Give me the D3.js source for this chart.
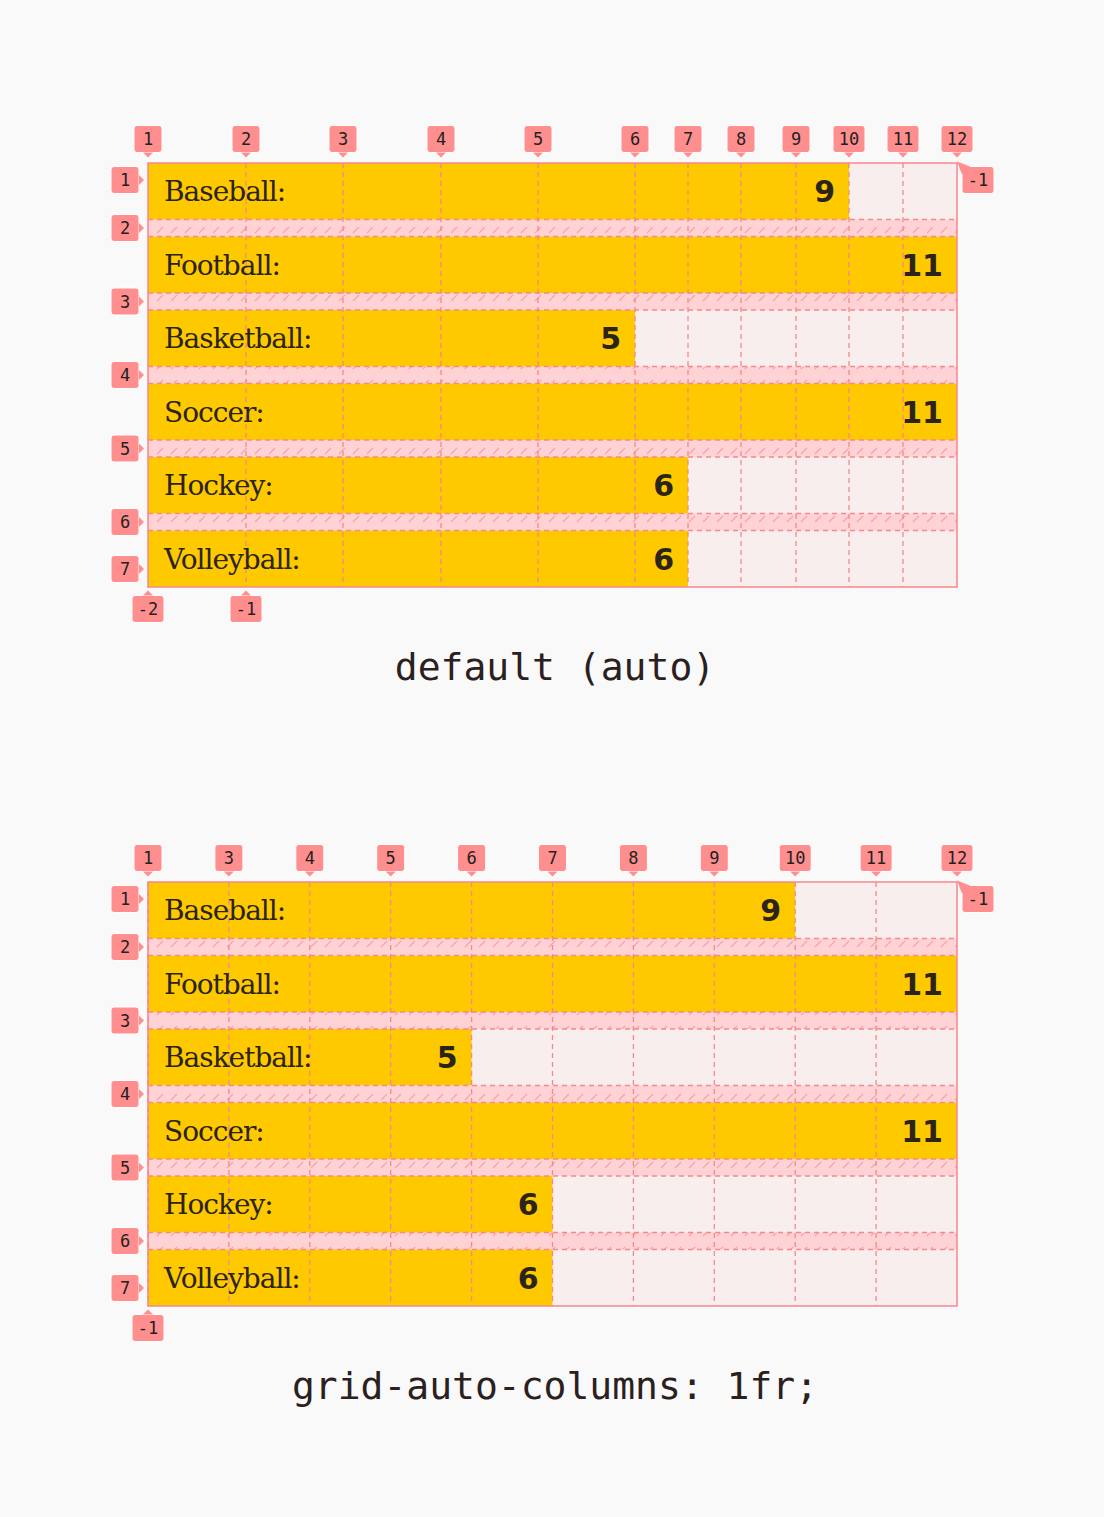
<!DOCTYPE html>
<html><head><meta charset="utf-8">
<script src="https://cdn.jsdelivr.net/npm/d3@7"></script>
<style>body{margin:0;background:#f9f9f9}</style>
</head><body>
<script>
const sports = ["Baseball:", "Football:", "Basketball:", "Soccer:", "Hockey:", "Volleyball:"];
const values = [9, 11, 5, 11, 6, 6];
// relative track widths for each of the 11 column tracks
const autoTracks = [98, 97, 98, 97, 97, 53, 53, 55, 53, 54, 54];
const frTracks = [0, 1, 1, 1, 1, 1, 1, 1, 1, 1, 1];
const topLabelsAuto = [1, 2, 3, 4, 5, 6, 7, 8, 9, 10, 11, 12];
const topLabelsFr = [1, null, 3, 4, 5, 6, 7, 8, 9, 10, 11, 12];
const bottomLabelsAuto = [[0, "-2"], [1, "-1"]];
const bottomLabelsFr = [[0, "-1"]];
const captions = ["default (auto)", "grid-auto-columns: 1fr;"];

const W = 1104, H = 1517;
const svg = d3.select("body").append("svg").attr("width", W).attr("height", H);
const defs = svg.append("defs");
const pat = defs.append("pattern").attr("id", "hatch").attr("patternUnits", "userSpaceOnUse")
  .attr("width", 14).attr("height", 17);
pat.append("rect").attr("width", 14).attr("height", 17).attr("fill", "#ffd3d6");
pat.append("line").attr("x1", 3).attr("y1", 12).attr("x2", 9).attr("y2", 6)
  .attr("stroke", "#f7a3a8").attr("stroke-width", 1.3);

const pink = "#ff8f8f", line = "#f5888d";

function badge(g, x, y, text, dir) {
  const w = text.length > 1 ? 32 : 28, h = 27;
  const b = g.append("g").attr("transform", `translate(${x},${y})`);
  b.append("rect").attr("x", -w / 2).attr("y", -h / 2).attr("width", w).attr("height", h)
    .attr("rx", 3).attr("fill", pink).attr("stroke", "#fff").attr("stroke-width", 1);
  let tri = null;
  if (dir === "down") tri = [[-5, h / 2], [5, h / 2], [0, h / 2 + 5]];
  if (dir === "up") tri = [[-5, -h / 2], [5, -h / 2], [0, -h / 2 - 5]];
  if (dir === "right") tri = [[w / 2, -5], [w / 2, 5], [w / 2 + 5, 0]];
  if (dir === "upleft") tri = [[-w / 2, -h / 2 + 8], [-w / 2 + 8, -h / 2], [-w / 2 - 5, -h / 2 - 5]];
  if (tri) b.append("path").attr("d", d3.line()(tri) + "Z").attr("fill", pink);
  b.append("text").attr("text-anchor", "middle").attr("dy", "0.36em")
    .attr("font-family", "DejaVu Sans Mono").attr("font-size", 17).attr("fill", "#222").text(text);
}

function drawGrid(top, tracks, topLabels, bottomLabels, caption) {
  const g = svg.append("g");
  const cum = [0];
  tracks.forEach(t => cum.push(cum[cum.length - 1] + t));
  const x = d3.scaleLinear().domain([0, cum[cum.length - 1]]).range([148, 957]);
  const lineX = cum.map(c => x(c));
  const rowH = 56.5, gapH = 17;
  const y = d3.scaleBand().domain(d3.range(sports.length)).range([top, top + 6 * rowH + 5 * gapH])
    .paddingInner(gapH / (rowH + gapH));

  // background empty cells
  g.append("rect").attr("x", x(0)).attr("y", top).attr("width", x.range()[1] - x(0))
    .attr("height", y.range()[1] - top).attr("fill", "#f8eeee");
  // gaps
  d3.range(sports.length - 1).forEach(i => {
    g.append("rect").attr("x", x(0)).attr("y", y(i) + y.bandwidth())
      .attr("width", x.range()[1] - x(0)).attr("height", y.step() - y.bandwidth()).attr("fill", "url(#hatch)");
  });
  // bars
  g.selectAll(".bar").data(values).join("rect")
    .attr("x", x(0)).attr("y", (d, i) => y(i))
    .attr("width", d => lineX[d] - x(0)).attr("height", y.bandwidth()).attr("fill", "#ffc900");
  // dashed grid lines
  lineX.slice(1, -1).forEach(lx => {
    g.append("line").attr("x1", lx).attr("x2", lx).attr("y1", top).attr("y2", y.range()[1])
      .attr("stroke", line).attr("stroke-width", 1.3).attr("stroke-dasharray", "5,4");
  });
  d3.range(sports.length - 1).forEach(i => {
    [y(i) + y.bandwidth(), y(i + 1)].forEach(ly => {
      g.append("line").attr("x1", x(0)).attr("x2", x.range()[1]).attr("y1", ly).attr("y2", ly)
        .attr("stroke", line).attr("stroke-width", 1.3).attr("stroke-dasharray", "5,4");
    });
  });
  g.append("rect").attr("x", x(0)).attr("y", top).attr("width", x.range()[1] - x(0))
    .attr("height", y.range()[1] - top).attr("fill", "none").attr("stroke", line).attr("stroke-width", 1.5);

  // labels
  g.selectAll(".lab").data(sports).join("text")
    .attr("x", 164).attr("y", (d, i) => y(i) + y.bandwidth() / 2).attr("dy", "0.36em")
    .attr("font-family", "DejaVu Serif").attr("font-size", 28).attr("fill", "#2b2418")
    .attr("letter-spacing", -1).text(d => d);
  g.selectAll(".val").data(values).join("text")
    .attr("x", d => lineX[d] - 14).attr("y", (d, i) => y(i) + y.bandwidth() / 2).attr("dy", "0.36em")
    .attr("text-anchor", "end").attr("font-family", "DejaVu Sans").attr("font-weight", "bold")
    .attr("font-size", 30).attr("fill", "#2b2418").text(d => d);

  // column badges
  topLabels.forEach((t, i) => { if (t !== null) badge(g, lineX[i], top - 24, String(t), "down"); });
  // row badges
  const rowLines = [top];
  d3.range(sports.length - 1).forEach(i => rowLines.push(y(i) + y.bandwidth() + (y.step() - y.bandwidth()) / 2));
  rowLines.push(y.range()[1]);
  rowLines.forEach((ry, i) => {
    const yy = i === 0 ? ry + 17 : (i === rowLines.length - 1 ? ry - 18 : ry);
    badge(g, 125, yy, String(i + 1), "right");
  });
  bottomLabels.forEach(([li, t]) => badge(g, lineX[li], y.range()[1] + 22, t, "up"));
  badge(g, 978, top + 17, "-1", "upleft");

  g.append("text").attr("x", 555).attr("y", y.range()[1] + 79).attr("dy", "0.36em")
    .attr("text-anchor", "middle").attr("font-family", "DejaVu Sans Mono").attr("font-size", 38)
    .attr("fill", "#2b2020").text(caption);
}

drawGrid(163, autoTracks, topLabelsAuto, bottomLabelsAuto, captions[0]);
drawGrid(882, frTracks, topLabelsFr, bottomLabelsFr, captions[1]);
</script>
</body></html>
